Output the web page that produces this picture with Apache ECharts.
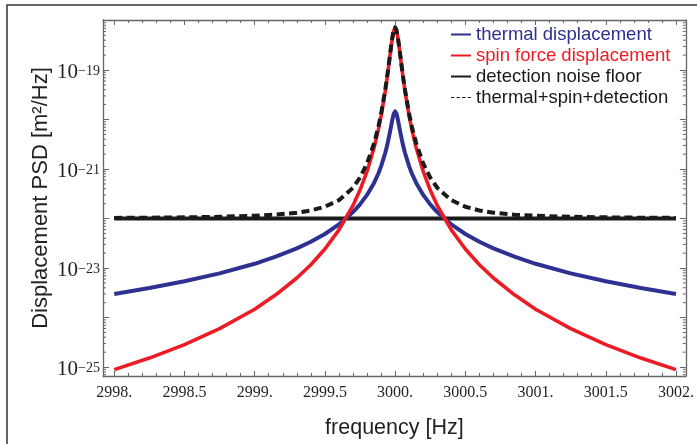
<!DOCTYPE html>
<html>
<head>
<meta charset="utf-8">
<script src="https://cdn.jsdelivr.net/npm/echarts@6/dist/echarts.min.js"></script>
<style>
html,body{margin:0;padding:0;background:#fff;}
#chart{width:697px;height:444px;}
</style>
</head>
<body>
<div id="chart"></div>
<script>
// ---- data ----
const freqs = [2998, 2998.25, 2998.5, 2998.75, 2999, 2999.15, 2999.3, 2999.4, 2999.5, 2999.6, 2999.7, 2999.75,
  2999.8, 2999.85, 2999.88, 2999.9, 2999.93, 2999.94, 2999.95, 2999.96, 2999.97, 2999.98, 2999.99, 3000,
  3000.01, 3000.02, 3000.03, 3000.04, 3000.05, 3000.06, 3000.07, 3000.1, 3000.12, 3000.15, 3000.2, 3000.25,
  3000.3, 3000.4, 3000.5, 3000.6, 3000.7, 3000.85, 3001, 3001.25, 3001.5, 3001.75, 3002];

const thermal = [3.0e-24, 3.95e-24, 5.4e-24, 7.8e-24, 1.22e-23, 1.694e-23, 2.50e-23, 3.395e-23, 4.88e-23, 7.62e-23,
  1.35e-22, 1.934e-22, 3.0e-22, 5.25e-22, 8.04e-22, 1.13e-21, 2.13e-21, 2.76e-21, 3.67e-21, 5.02e-21, 7.04e-21,
  9.88e-21, 1.303e-20, 1.458e-20,
  1.303e-20, 9.88e-21, 7.04e-21, 5.02e-21, 3.67e-21, 2.76e-21, 2.13e-21, 1.13e-21, 8.04e-22, 5.25e-22, 3.0e-22,
  1.934e-22, 1.35e-22, 7.62e-23, 4.88e-23, 3.395e-23, 2.50e-23, 1.694e-23, 1.22e-23, 7.8e-24, 5.4e-24, 3.95e-24, 3.0e-24];

const spin = [8.9e-26, 1.52e-25, 2.85e-25, 6.0e-25, 1.47e-24, 2.88e-24, 6.3e-24, 1.17e-23, 2.43e-23, 5.91e-23,
  1.84e-22, 3.763e-22, 8.95e-22, 2.68e-21, 6.11e-21, 1.17e-20, 3.80e-20, 5.99e-20, 9.77e-20, 1.63e-19, 2.74e-19,
  4.40e-19, 6.25e-19, 7.13e-19,
  6.25e-19, 4.40e-19, 2.74e-19, 1.63e-19, 9.77e-20, 5.99e-20, 3.80e-20, 1.17e-20, 6.11e-21, 2.68e-21, 8.95e-22,
  3.763e-22, 1.84e-22, 5.91e-23, 2.43e-23, 1.17e-23, 6.3e-24, 2.88e-24, 1.47e-24, 6.0e-25, 2.85e-25, 1.52e-25, 8.9e-26];

const total = [1.031e-22, 1.041e-22, 1.057e-22, 1.084e-22, 1.137e-22, 1.1988e-22, 1.314e-22, 1.4574e-22, 1.732e-22,
  2.353e-22, 4.19e-22, 6.697e-22, 1.295e-21, 3.31e-21, 7.01e-21, 1.293e-20, 4.02e-20, 6.28e-20, 1.015e-19, 1.681e-19,
  2.812e-19, 4.50e-19, 6.381e-19, 7.277e-19,
  6.381e-19, 4.50e-19, 2.812e-19, 1.681e-19, 1.015e-19, 6.28e-20, 4.02e-20, 1.293e-20, 7.01e-21, 3.31e-21, 1.295e-21,
  6.697e-22, 4.19e-22, 2.353e-22, 1.732e-22, 1.4574e-22, 1.314e-22, 1.1988e-22, 1.137e-22, 1.084e-22, 1.057e-22,
  1.041e-22, 1.031e-22];

const floorFreqs = [2998, 3002];
const floorValues = [1.0e-22, 1.0e-22];

const seriesNames = ['thermal displacement', 'spin force displacement', 'detection noise floor', 'thermal+spin+detection'];
const yLabelExponents = [-25, -23, -21, -19];
const xTickLabels = ['2998.', '2998.5', '2999.', '2999.5', '3000.', '3000.5', '3001.', '3001.5', '3002.'];

// ---- layout / style ----
const X_MIN = 2997.92, X_MAX = 3002.07;
const Y_MIN = Math.pow(10, -25.18), Y_MAX = Math.pow(10, -17.99);
const BLUE = '#2e3192', RED = '#ed1c24', BLACK = '#1a1a1a', AXIS = '#666666', TXT = '#231f20';
const DASH_ICON = 'path://M0,0h3v1h-3z M5,0h3v1h-3z M10,0h3v1h-3z M15,0h3v1h-3z';

// minor log ticks (2..9 x 10^m)
const minorTicks = [];
for (let m = -26; m <= -18; m++) {
  for (let k = 2; k <= 9; k++) {
    const v = k * Math.pow(10, m);
    if (v > Y_MIN && v < Y_MAX) minorTicks.push(v);
  }
}

function pairs(xs, ys) { return xs.map((x, i) => [x, ys[i]]); }

const chart = echarts.init(document.getElementById('chart'), null, {renderer: 'canvas'});

const xAxisCommon = {
  type: 'value', min: X_MIN, max: X_MAX, splitNumber: 8,
  axisLine: {show: true, onZero: false, lineStyle: {color: AXIS, width: 1.3}},
  axisTick: {show: true, inside: true, length: 5, lineStyle: {color: AXIS, width: 1}},
  minorTick: {show: true, splitNumber: 5, length: 3, lineStyle: {color: AXIS, width: 1}},
  splitLine: {show: false}
};
const yAxisCommon = {
  type: 'log', min: Y_MIN, max: Y_MAX, logBase: 10,
  axisLine: {show: true, onZero: false, lineStyle: {color: AXIS, width: 1.3}},
  axisTick: {show: true, inside: true, length: 6, lineStyle: {color: AXIS, width: 1}},
  splitLine: {show: false}
};

function yLabelFormatter(v) {
  const l = Math.log10(v);
  const e = Math.round(l);
  if (Math.abs(l - e) > 1e-6 || yLabelExponents.indexOf(e) < 0) return '';
  return '{b|10}{s|\u2212' + (-e) + '}';
}
function xLabelFormatter(v) {
  const idx = Math.round((v - 2998) / 0.5);
  if (Math.abs(v - (2998 + idx * 0.5)) > 1e-6 || idx < 0 || idx >= xTickLabels.length) return '';
  return xTickLabels[idx];
}

const option = {
  backgroundColor: '#ffffff',
  animation: false,
  grid: {left: 103, right: 11, top: 20, bottom: 65, containLabel: false},
  graphic: [{
    type: 'rect', shape: {x: 7, y: 5, width: 720, height: 470}, z: -10, silent: true,
    style: {fill: 'none', stroke: '#333333', lineWidth: 1.5}
  }],
  legend: {
    orient: 'vertical', left: 451, top: 24, padding: 0, itemWidth: 20, itemHeight: 2, itemGap: 0,
    selectedMode: false,
    textStyle: {fontFamily: 'Liberation Sans', fontSize: 18.5, lineHeight: 21, color: BLACK},
    data: [
      {name: seriesNames[0], icon: 'rect', textStyle: {color: BLUE}},
      {name: seriesNames[1], icon: 'rect', textStyle: {color: RED}},
      {name: seriesNames[2], icon: 'rect', textStyle: {color: BLACK}},
      {name: seriesNames[3], icon: DASH_ICON, textStyle: {color: BLACK}}
    ]
  },
  xAxis: [
    Object.assign({}, xAxisCommon, {
      position: 'bottom',
      name: 'frequency [Hz]', nameLocation: 'middle', nameGap: 41, nameMoveOverlap: false,
      nameTextStyle: {fontFamily: 'Liberation Sans', fontSize: 21.5, color: TXT},
      axisLabel: {show: true, margin: 9, showMinLabel: false, showMaxLabel: false, formatter: xLabelFormatter,
        fontFamily: 'Liberation Serif', fontSize: 16, color: TXT}
    }),
    Object.assign({}, xAxisCommon, {position: 'top', axisLabel: {show: false}})
  ],
  yAxis: [
    Object.assign({}, yAxisCommon, {
      position: 'left',
      name: 'Displacement PSD [m\u00b2/Hz]', nameLocation: 'middle', nameGap: 51, nameRotate: 90, nameMoveOverlap: false,
      nameTextStyle: {fontFamily: 'Liberation Sans', fontSize: 22, color: TXT},
      axisLabel: {
        show: true, margin: 3, showMinLabel: false, showMaxLabel: false, formatter: yLabelFormatter,
        rich: {
          b: {fontFamily: 'Liberation Serif', fontSize: 21, color: TXT, lineHeight: 26, verticalAlign: 'bottom', padding: [7, 0, 0, 0]},
          s: {fontFamily: 'Liberation Serif', fontSize: 14, color: TXT, lineHeight: 15, verticalAlign: 'top', padding: [7, 0, 0, 0]}
        }
      }
    }),
    Object.assign({}, yAxisCommon, {position: 'right', axisLabel: {show: false}})
  ],
  series: [
    {
      name: seriesNames[2], type: 'line', data: pairs(floorFreqs, floorValues),
      showSymbol: false, symbol: 'none', z: 2,
      lineStyle: {color: BLACK, width: 4}, itemStyle: {color: BLACK}
    },
    {
      name: seriesNames[0], type: 'line', data: pairs(freqs, thermal),
      showSymbol: false, symbol: 'none', z: 3,
      lineStyle: {color: BLUE, width: 4, join: 'round'}, itemStyle: {color: BLUE}
    },
    {
      name: seriesNames[1], type: 'line', data: pairs(freqs, spin),
      showSymbol: false, symbol: 'none', z: 4,
      lineStyle: {color: RED, width: 3.6, join: 'round'}, itemStyle: {color: RED}
    },
    {
      name: seriesNames[3], type: 'line', data: pairs(freqs, total),
      showSymbol: false, symbol: 'none', z: 5,
      lineStyle: {color: BLACK, width: 4, type: [8, 4.5], join: 'round'}, itemStyle: {color: BLACK}
    },
    {
      name: 'minorTicks', type: 'custom', silent: true, z: 6,
      data: minorTicks.map(v => [X_MIN, v]),
      renderItem: function (params, api) {
        const p = api.coord([api.value(0), api.value(1)]);
        const cs = params.coordSys;
        return {
          type: 'group',
          children: [
            {type: 'line', shape: {x1: cs.x, y1: p[1], x2: cs.x + 3, y2: p[1]}, style: {stroke: AXIS, lineWidth: 1}},
            {type: 'line', shape: {x1: cs.x + cs.width - 3, y1: p[1], x2: cs.x + cs.width, y2: p[1]}, style: {stroke: AXIS, lineWidth: 1}}
          ]
        };
      }
    }
  ]
};
chart.setOption(option);
</script>
</body>
</html>
